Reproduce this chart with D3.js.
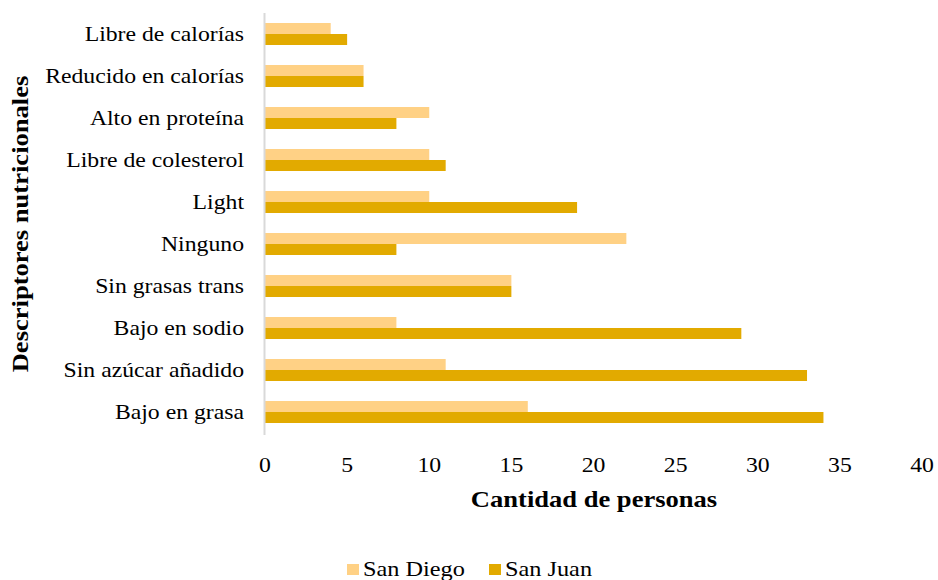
<!DOCTYPE html>
<html><head><meta charset="utf-8">
<script src="https://cdn.jsdelivr.net/npm/d3@7"></script>
<style>body{margin:0;background:#fff}svg{display:block;font-family:"Liberation Serif","Times New Roman",serif}</style>
</head><body><svg id="c" width="938" height="580"></svg>
<script>
const categories = ["Libre de calorías","Reducido en calorías","Alto en proteína","Libre de colesterol","Light","Ninguno","Sin grasas trans","Bajo en sodio","Sin azúcar añadido","Bajo en grasa"];
const sanDiego = [4,6,10,10,10,22,15,8,11,16];
const sanJuan  = [5,6,8,11,19,8,15,29,33,34];
const seriesNames = ["San Diego","San Juan"];
const colors = ["#FFD185","#E2AA00"];
const xTicks = [0,5,10,15,20,25,30,35,40];

const SX = 1.13;
const svg = d3.select("#c");
const x = d3.scaleLinear().domain([0,40]).range([265,922]);
const y = d3.scaleBand().domain(categories).range([13,433]).paddingInner(0.476).paddingOuter(0.238);
const sub = d3.scaleBand().domain(seriesNames).range([0,y.bandwidth()]);
const series = [sanDiego, sanJuan];

const g = svg.append("g");
series.forEach((vals,si)=>{
  g.selectAll(".b"+si).data(categories).enter().append("rect")
    .attr("x",x(0)).attr("y",d=>y(d)+sub(seriesNames[si]))
    .attr("width",(d,i)=>x(vals[i])-x(0)).attr("height",sub.bandwidth())
    .attr("fill",colors[si]);
});

svg.append("line").attr("x1",264.5).attr("x2",264.5).attr("y1",13).attr("y2",435)
  .attr("stroke","#d9d9d9").attr("stroke-width",2);

svg.selectAll(".cl").data(categories).enter().append("text")
  .attr("transform",d=>`translate(244,${y(d)+y.bandwidth()/2}) scale(${SX},1)`).attr("dy","0.35em")
  .attr("text-anchor","end").attr("font-size",21).attr("fill","#000").text(d=>d);

svg.selectAll(".xt").data(xTicks).enter().append("text")
  .attr("transform",d=>`translate(${x(d)},472) scale(${SX},1)`).attr("text-anchor","middle")
  .attr("font-size",21).attr("fill","#000").text(d=>d);

svg.append("text").attr("transform",`translate(594,507) scale(${SX},1)`).attr("text-anchor","middle")
  .attr("font-size",23.5).attr("font-weight","bold").text("Cantidad de personas");

svg.append("text").attr("transform",`translate(28,224) rotate(-90) scale(${SX},1)`).attr("text-anchor","middle")
  .attr("font-size",23.5).attr("font-weight","bold").text("Descriptores nutricionales");

const leg = [{n:seriesNames[0],c:colors[0],x:347},{n:seriesNames[1],c:colors[1],x:489}];
leg.forEach(l=>{
  svg.append("rect").attr("x",l.x).attr("y",564).attr("width",12).attr("height",11).attr("fill",l.c);
  svg.append("text").attr("transform",`translate(${l.x+16},576) scale(${SX},1)`).attr("font-size",21.5).text(l.n);
});
</script></body></html>
